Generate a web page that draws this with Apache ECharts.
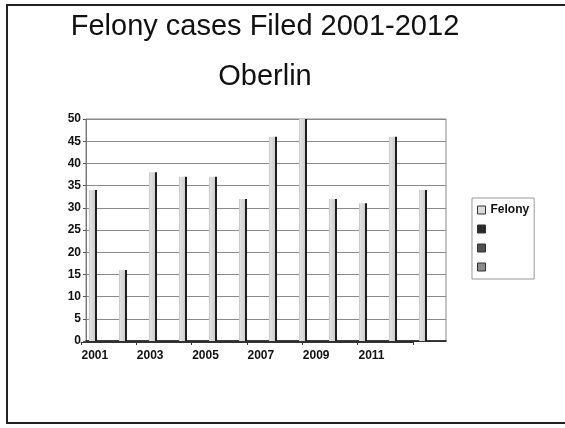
<!DOCTYPE html>
<html>
<head>
<meta charset="utf-8">
<script src="https://cdn.jsdelivr.net/npm/echarts@6/dist/echarts.min.js"></script>
<style>html,body{margin:0;padding:0;background:#fff;}#c{width:565px;height:428px;}</style>
</head>
<body>
<div id="c"></div>
<script>
var categories = ['2001','2002','2003','2004','2005','2006','2007','2008','2009','2010','2011','2012'];
var felony = [34,16,38,37,37,32,46,50,32,31,46,34];
var seriesNames = ['Felony',' ','  ','   '];
var legendColors = ['#dcdcdc','#2a2a2a','#505050','#8a8a8a'];
var yTicks = {min:0, max:50, interval:5};

var chart = echarts.init(document.getElementById('c'));
var FONT = '"Liberation Sans", Arial, sans-serif';
var barFill = new echarts.graphic.LinearGradient(0,0,1,0,[
  {offset:0, color:'#b8b8b8'},
  {offset:0.14, color:'#e2e2e2'},
  {offset:0.72, color:'#cfcfcf'},
  {offset:0.74, color:'#222'},
  {offset:1, color:'#111'}
]);
var series = seriesNames.map(function(n,i){
  return {
    name:n, type:'bar', xAxisIndex:0, yAxisIndex:0,
    data: i===0 ? felony : categories.map(function(){return null;}),
    barWidth:8, barGap:'-33%',
    itemStyle: i===0 ? {color:barFill} : {color:legendColors[i]}
  };
});
chart.setOption({
  animation:false,
  backgroundColor:'#fff',
  title:{
    text:'Felony cases Filed 2001-2012\nOberlin',
    left:265, top:2, padding:0, textAlign:'center',
    textStyle:{fontFamily:FONT, fontSize:29, fontWeight:'normal', color:'#111', lineHeight:50}
  },
  legend:{
    orient:'vertical', left:472, top:198, padding:[5,5,5,5],
    borderColor:'#999', borderWidth:1,
    itemWidth:8, itemHeight:8, itemGap:5, icon:'rect',
    textStyle:{fontFamily:FONT, fontSize:12, fontWeight:'bold', color:'#111', lineHeight:14},
    data: seriesNames.map(function(n,i){
      return {name:n, itemStyle:{color:legendColors[i], borderColor:'#333', borderWidth:1}};
    })
  },
  grid:[
    {left:86, right:119, top:119, bottom:87, show:true, borderColor:'#888', borderWidth:1, backgroundColor:'transparent'},
    {left:81, width:332, top:119, bottom:86}
  ],
  xAxis:[
    {gridIndex:0, type:'category', data:categories, boundaryGap:true,
     axisLine:{lineStyle:{color:'#111', width:1.5}}, axisTick:{show:false}, axisLabel:{show:false}},
    {gridIndex:1, type:'category', data:categories, boundaryGap:true,
     axisLine:{lineStyle:{color:'#333', width:1}},
     axisTick:{show:true, length:3, lineStyle:{color:'#333'}},
     axisLabel:{interval:1, margin:8, fontFamily:FONT, fontSize:12, fontWeight:'bold', color:'#111'}}
  ],
  yAxis:[
    {gridIndex:0, type:'value', min:yTicks.min, max:yTicks.max, interval:yTicks.interval,
     axisLine:{show:true, lineStyle:{color:'#777'}},
     axisTick:{show:true, length:3, lineStyle:{color:'#555'}},
     axisLabel:{margin:5, fontFamily:FONT, fontSize:12, fontWeight:'bold', color:'#111'},
     splitLine:{lineStyle:{color:'#8a8a8a', width:1}}},
    {gridIndex:1, type:'value', min:yTicks.min, max:yTicks.max, show:false}
  ],
  series:series,
  graphic:[
    {type:'line', shape:{x1:7, y1:5, x2:565, y2:5}, style:{stroke:'#222', lineWidth:2}},
    {type:'line', shape:{x1:7, y1:4, x2:7, y2:424}, style:{stroke:'#222', lineWidth:2}},
    {type:'line', shape:{x1:6, y1:423, x2:565, y2:423}, style:{stroke:'#222', lineWidth:2}}
  ]
});
</script>
</body>
</html>
